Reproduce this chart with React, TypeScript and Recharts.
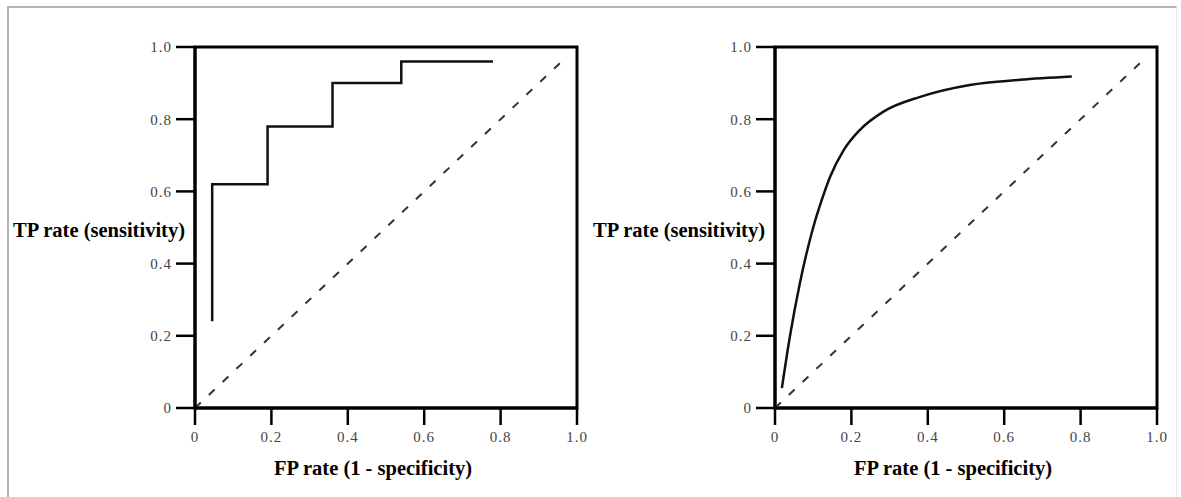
import React from 'react';
import { ComposedChart, Line, XAxis, YAxis, ReferenceArea } from 'recharts';

const tickValues = [0, 0.2, 0.4, 0.6, 0.8, 1.0];
const tickLabels = ['0', '0.2', '0.4', '0.6', '0.8', '1.0'];

// Left panel: empirical (step) ROC curve
const stepFpr = [0.045, 0.045, 0.19, 0.36, 0.54, 0.78];
const stepTpr = [0.24, 0.62, 0.78, 0.90, 0.96, 0.96];

// Right panel: smooth ROC curve
const smoothFpr = [0.018, 0.039, 0.065, 0.1, 0.122, 0.144, 0.179, 0.222, 0.284, 0.38, 0.51, 0.641, 0.777];
const smoothTpr = [0.055, 0.198, 0.345, 0.5, 0.575, 0.64, 0.713, 0.77, 0.821, 0.862, 0.895, 0.909, 0.918];

// Chance diagonal
const diagFpr = [0, 0.97];
const diagTpr = [0, 0.97];

const xLabel = 'FP rate (1 - specificity)';
const yLabel = 'TP rate (sensitivity)';

const zip = (xs: number[], ys: number[]) => xs.map((x, i) => ({ x, y: ys[i] }));

const FONT = '"Liberation Serif", "Times New Roman", serif';
const fmt = (v: number) => tickLabels[tickValues.findIndex((t) => Math.abs(t - v) < 1e-9)] ?? String(v);

function Panel({ curve, smooth, left }: { curve: { x: number; y: number }[]; smooth: boolean; left: number }) {
  return (
    <div style={{ position: 'absolute', left, top: 0 }}>
      <ComposedChart width={590} height={497} margin={{ top: 47, right: 13, bottom: 19, left: 135 }}>
        <XAxis
          type="number"
          dataKey="x"
          domain={[0, 1]}
          ticks={tickValues}
          tickFormatter={fmt}
          allowDataOverflow
          height={70}
          axisLine={{ stroke: '#000', strokeWidth: 3 }}
          tickLine={{ stroke: '#000', strokeWidth: 2.5 }}
          tickSize={17}
          tickMargin={6}
          tick={{ fill: '#444', fontSize: 15, fontFamily: FONT, letterSpacing: 1 }}
          label={{
            value: xLabel,
            position: 'insideBottom',
            offset: 3,
            dx: -13,
            fill: '#000',
            fontSize: 20.5,
            fontWeight: 'bold',
            fontFamily: FONT,
          }}
        />
        <YAxis
          type="number"
          dataKey="y"
          domain={[0, 1]}
          ticks={tickValues}
          tickFormatter={fmt}
          allowDataOverflow
          width={60}
          axisLine={{ stroke: '#000', strokeWidth: 3 }}
          tickLine={{ stroke: '#000', strokeWidth: 2.5 }}
          tickSize={19}
          tickMargin={4}
          tick={{ fill: '#444', fontSize: 15, fontFamily: FONT, letterSpacing: 1 }}
          label={{
            value: yLabel,
            position: 'insideRight',
            offset: 10,
            dy: 2,
            fill: '#000',
            fontSize: 20.5,
            fontWeight: 'bold',
            fontFamily: FONT,
          }}
        />
        <ReferenceArea x1={0} x2={1} y1={0} y2={1} fill="none" fillOpacity={0} stroke="#000" strokeWidth={3} strokeOpacity={1} />
        <Line
          data={zip(diagFpr, diagTpr)}
          dataKey="y"
          type="linear"
          stroke="#333"
          strokeWidth={2}
          strokeDasharray="8 11"
          dot={false}
          activeDot={false}
          isAnimationActive={false}
        />
        <Line
          data={curve}
          dataKey="y"
          type={smooth ? 'monotone' : 'stepAfter'}
          stroke="#111"
          strokeWidth={2.5}
          dot={false}
          activeDot={false}
          isAnimationActive={false}
        />
      </ComposedChart>
    </div>
  );
}

export default function App() {
  return (
    <div style={{ position: 'absolute', left: 0, top: 0, width: 1181, height: 497, background: '#fff', overflow: 'hidden' }}>
      <div
        style={{
          position: 'absolute',
          left: 7,
          top: 6,
          width: 1167,
          height: 500,
          borderTop: '2px solid #b4b4b4',
          borderLeft: '2px solid #b4b4b4',
          borderRight: '1px solid #eeeeee',
        }}
      />
      <Panel curve={zip(stepFpr, stepTpr)} smooth={false} left={0} />
      <Panel curve={zip(smoothFpr, smoothTpr)} smooth={true} left={580} />
    </div>
  );
}
